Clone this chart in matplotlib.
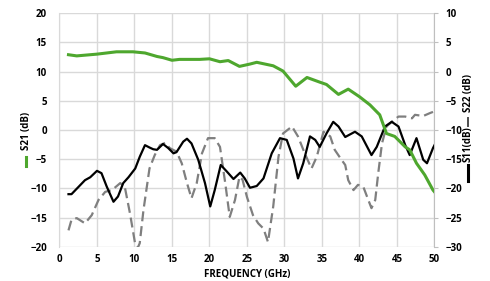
import numpy as np
import matplotlib
matplotlib.use("Agg")
import matplotlib.pyplot as plt
from matplotlib.lines import Line2D

# S21 gain (left axis, dB)
s21_freq = [1.2, 2.3, 5.0, 7.6, 9.8, 11.4, 13.0, 13.8, 15.0, 16.0, 18.7, 20.0, 21.4, 22.5,
            24.0, 25.4, 26.3, 28.5, 29.8, 31.5, 33.0, 34.7, 35.6, 37.2, 38.5, 40.0, 41.4,
            42.7, 43.6, 44.7, 46.1, 46.7, 47.6, 48.7, 49.8, 50.0]
s21_db = [12.9, 12.7, 13.0, 13.4, 13.4, 13.2, 12.6, 12.4, 11.95, 12.1, 12.1, 12.2, 11.7, 11.9,
          10.9, 11.3, 11.6, 11.0, 10.1, 7.5, 9.0, 8.2, 7.8, 6.1, 7.0, 5.7, 4.3,
          2.6, -0.6, -1.1, -2.9, -3.4, -5.7, -7.7, -10.3, -10.6]

# S11 return loss (right axis, dB)
s11_freq = [1.2, 1.6, 2.5, 3.4, 4.1, 5.0, 5.6, 6.3, 7.2, 7.8, 8.5, 9.2, 10.1, 10.7, 11.4,
            12.0, 12.5, 13.0, 13.8, 14.5, 15.2, 15.6, 16.5, 17.0, 17.6, 18.5, 19.4, 20.1,
            20.7, 21.5, 22.3, 23.2, 24.1, 24.7, 25.4, 26.3, 27.2, 28.3, 29.4, 30.3, 31.2,
            31.8, 32.5, 33.4, 34.1, 34.7, 35.6, 36.5, 37.2, 38.1, 39.4, 40.3, 41.6, 42.3,
            43.4, 44.3, 45.2, 46.1, 46.7, 47.6, 48.5, 49.0, 49.8, 50.0]
s11_db = [-21.0, -21.0, -19.8, -18.6, -18.1, -17.0, -17.4, -19.7, -22.3, -21.4, -19.1, -18.1,
          -16.6, -14.6, -12.6, -13.0, -13.3, -13.4, -12.4, -13.1, -14.0, -13.8, -12.0, -11.5,
          -12.3, -15.1, -19.1, -23.1, -20.3, -16.0, -17.1, -18.4, -17.3, -18.3, -19.9, -19.6,
          -18.3, -14.0, -11.4, -11.7, -14.9, -18.3, -15.7, -11.1, -11.7, -12.9, -10.6, -8.6,
          -9.4, -11.2, -10.3, -11.1, -14.3, -12.9, -9.4, -8.6, -9.4, -12.6, -14.3, -11.4,
          -15.1, -15.7, -13.1, -12.6]

# S22 return loss (right axis, dB)
s22_freq = [1.2, 1.6, 2.3, 3.4, 4.3, 5.2, 6.1, 7.0, 8.1, 8.7, 9.4, 10.1, 10.4, 10.7, 11.2,
            12.0, 12.7, 13.4, 14.1, 14.7, 15.6, 16.3, 17.0, 17.6, 18.3, 19.0, 19.8, 20.7,
            21.4, 22.1, 22.7, 23.4, 24.0, 24.4, 25.0, 25.8, 26.5, 27.2, 27.8, 28.5, 29.2,
            29.8, 31.0, 31.8, 32.7, 33.6, 34.3, 35.2, 36.1, 36.7, 37.6, 38.1, 38.5, 39.2,
            39.8, 40.5, 41.0, 41.6, 42.1, 42.5, 43.0, 43.6, 44.3, 45.2, 46.1, 47.0, 47.4,
            48.5, 49.4, 49.8]
s22_db = [-27.2, -25.4, -25.1, -26.0, -24.6, -22.0, -20.6, -20.3, -19.1, -19.7, -24.3, -29.6,
          -30.3, -29.4, -23.7, -16.6, -14.3, -12.6, -12.2, -13.1, -13.7, -15.7, -19.1, -21.7,
          -19.1, -14.0, -11.4, -11.4, -12.9, -19.1, -24.9, -22.0, -18.0, -18.5, -21.5, -24.6,
          -26.0, -26.9, -29.2, -23.1, -14.6, -10.6, -9.4, -11.1, -14.0, -16.6, -14.6, -10.3,
          -11.1, -13.4, -15.1, -16.0, -18.6, -20.3, -19.4, -19.7, -21.4, -23.4, -22.0, -17.4,
          -12.3, -9.4, -8.6, -7.7, -7.7, -8.0, -7.4, -7.6, -7.1, -6.9]

green = "#4ea72e"
grid_c = "#d9d9d9"
plt.rcParams["font.family"] = ["Open Sans", "DejaVu Sans"]
plt.rcParams["font.weight"] = "bold"
fs = 7

fig = plt.figure(figsize=(4.9, 2.81), dpi=100)
ax = fig.add_axes([0.1214, 0.1221, 0.7653, 0.8306])
ax2 = ax.twinx()

ax.set_xlim(0, 50)
ax.set_ylim(-20, 20)
ax2.set_ylim(-30, 10)
ax.set_xticks(np.arange(0, 51, 5))
ax.set_yticks(np.arange(-20, 21, 5))
ax2.set_yticks(np.arange(-30, 11, 5))
ax.grid(True, color=grid_c, linewidth=1)
ax.set_axisbelow(True)

for a in (ax, ax2):
    for s in a.spines.values():
        s.set_visible(False)
ax.spines["left"].set_visible(True)
ax.spines["left"].set_color(grid_c)
ax2.spines["right"].set_visible(True)
ax2.spines["right"].set_color("#bfbfbf")

ax.tick_params(axis="both", length=0, labelsize=fs, pad=5)
ax.tick_params(axis="y", pad=9)
ax2.tick_params(axis="y", length=3, color="#bfbfbf", labelsize=fs, pad=5)
for lbl in ax.get_xticklabels() + ax.get_yticklabels() + ax2.get_yticklabels():
    lbl.set_fontweight("bold")

ax2.plot(s22_freq, s22_db, color="#7f7f7f", linewidth=1.6, dashes=(4.5, 2.2),
         solid_joinstyle="round", dash_joinstyle="round", zorder=2)
ax2.plot(s11_freq, s11_db, color="black", linewidth=1.6, solid_joinstyle="round", zorder=3)
ax2.plot(s21_freq, [v - 10 for v in s21_db], color=green, linewidth=2.2,
         solid_joinstyle="round", zorder=4)

fig.text(247 / 490, 1 - 274 / 281, "FREQUENCY (GHz)", ha="center", va="center",
         fontsize=fs, fontweight="bold")

# axis titles with line symbols
fig.text(26 / 490, 1 - 131 / 281, "S21 (dB)", rotation=90, ha="center", va="center",
         fontsize=fs, fontweight="bold")
fig.add_artist(Line2D([26 / 490] * 2, [1 - 166 / 281, 1 - 157 / 281], color=green, linewidth=2.2))

fig.text(468 / 490, 1 - 144 / 281, "S11(dB)", rotation=90, ha="center", va="center",
         fontsize=fs, fontweight="bold")
fig.add_artist(Line2D([468 / 490] * 2, [1 - 181 / 281, 1 - 165 / 281], color="black", linewidth=2.2))
fig.add_artist(Line2D([468 / 490] * 2, [1 - 126 / 281, 1 - 118 / 281], color="#4d4d4d", linewidth=1.4))
fig.text(468 / 490, 1 - 93 / 281, "S22 (dB)", rotation=90, ha="center", va="center",
         fontsize=fs, fontweight="bold")

fig.savefig("out.png", dpi=100)
